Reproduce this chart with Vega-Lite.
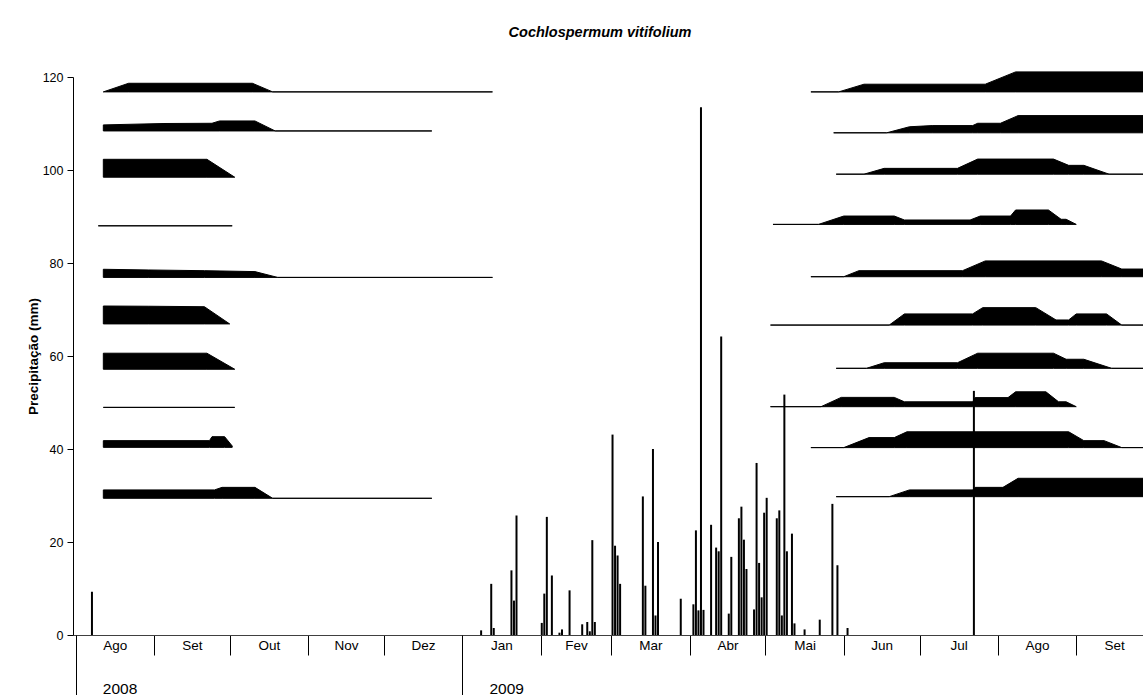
{
  "$schema": "https://vega.github.io/schema/vega-lite/v6.json",
  "width": 1070,
  "height": 558,
  "autosize": {"type": "none"},
  "padding": {"left": 73, "top": 77, "right": 0, "bottom": 60},
  "background": "white",
  "config": {
    "font": "Liberation Sans",
    "view": {"stroke": null},
    "axis": {"labelFont": "Liberation Sans", "titleFont": "Liberation Sans", "labelColor": "black", "titleColor": "black", "grid": false},
    "axisY": {
      "titleFontWeight": "bold", "titleFontSize": 13.5, "titlePadding": 2,
      "labelFontSize": 12.5, "labelPadding": 4,
      "tickSize": 6, "tickColor": "black", "domainColor": "black", "grid": false
    }
  },
  "title": {
    "text": "Cochlospermum vitifolium",
    "font": "Liberation Sans",
    "fontSize": 14.5,
    "fontWeight": "bold",
    "fontStyle": "italic",
    "color": "black",
    "anchor": "middle",
    "frame": "group",
    "offset": 29,
    "dx": -8
  },
  "datasets": {
    "rain": [
      {"date": "2008-08-07", "mm": 9.3},
      {"date": "2009-01-08", "mm": 1.0},
      {"date": "2009-01-12", "mm": 11.0},
      {"date": "2009-01-13", "mm": 1.5},
      {"date": "2009-01-20", "mm": 13.9},
      {"date": "2009-01-21", "mm": 7.4},
      {"date": "2009-01-22", "mm": 25.7},
      {"date": "2009-02-01", "mm": 2.6},
      {"date": "2009-02-02", "mm": 8.9},
      {"date": "2009-02-03", "mm": 25.4},
      {"date": "2009-02-05", "mm": 12.8},
      {"date": "2009-02-08", "mm": 0.5},
      {"date": "2009-02-09", "mm": 1.2},
      {"date": "2009-02-12", "mm": 9.6},
      {"date": "2009-02-17", "mm": 2.3},
      {"date": "2009-02-19", "mm": 2.8},
      {"date": "2009-02-20", "mm": 0.8},
      {"date": "2009-02-21", "mm": 20.4},
      {"date": "2009-02-22", "mm": 2.8},
      {"date": "2009-03-01", "mm": 43.1},
      {"date": "2009-03-02", "mm": 19.2},
      {"date": "2009-03-03", "mm": 17.1},
      {"date": "2009-03-04", "mm": 11.0},
      {"date": "2009-03-13", "mm": 29.8},
      {"date": "2009-03-14", "mm": 10.6},
      {"date": "2009-03-17", "mm": 40.0},
      {"date": "2009-03-18", "mm": 4.2},
      {"date": "2009-03-19", "mm": 20.0},
      {"date": "2009-03-28", "mm": 7.8},
      {"date": "2009-04-02", "mm": 6.6},
      {"date": "2009-04-03", "mm": 22.5},
      {"date": "2009-04-04", "mm": 5.3},
      {"date": "2009-04-05", "mm": 113.5},
      {"date": "2009-04-06", "mm": 5.4},
      {"date": "2009-04-09", "mm": 23.7},
      {"date": "2009-04-11", "mm": 18.8},
      {"date": "2009-04-12", "mm": 18.0},
      {"date": "2009-04-13", "mm": 64.2},
      {"date": "2009-04-16", "mm": 4.6},
      {"date": "2009-04-17", "mm": 16.8},
      {"date": "2009-04-20", "mm": 25.1},
      {"date": "2009-04-21", "mm": 27.6},
      {"date": "2009-04-22", "mm": 20.5},
      {"date": "2009-04-23", "mm": 14.2},
      {"date": "2009-04-26", "mm": 5.5},
      {"date": "2009-04-27", "mm": 37.0},
      {"date": "2009-04-28", "mm": 15.5},
      {"date": "2009-04-29", "mm": 8.1},
      {"date": "2009-04-30", "mm": 26.3},
      {"date": "2009-05-01", "mm": 29.5},
      {"date": "2009-05-05", "mm": 25.1},
      {"date": "2009-05-06", "mm": 26.8},
      {"date": "2009-05-07", "mm": 4.2},
      {"date": "2009-05-08", "mm": 51.7},
      {"date": "2009-05-09", "mm": 18.0},
      {"date": "2009-05-11", "mm": 21.8},
      {"date": "2009-05-12", "mm": 2.5},
      {"date": "2009-05-16", "mm": 1.2},
      {"date": "2009-05-22", "mm": 3.3},
      {"date": "2009-05-27", "mm": 28.2},
      {"date": "2009-05-29", "mm": 15.0},
      {"date": "2009-06-02", "mm": 1.5},
      {"date": "2009-07-22", "mm": 52.5}
    ],
    "kites": [
      {"season": 2008, "plant": 1, "date": "2008-08-12", "low": 116.8, "high": 116.8},
      {"season": 2008, "plant": 1, "date": "2008-08-22", "low": 116.8, "high": 118.65},
      {"season": 2008, "plant": 1, "date": "2008-10-10", "low": 116.8, "high": 118.65},
      {"season": 2008, "plant": 1, "date": "2008-10-18", "low": 116.8, "high": 116.8},
      {"season": 2008, "plant": 1, "date": "2009-01-13", "low": 116.8, "high": 116.8},

      {"season": 2008, "plant": 2, "date": "2008-08-12", "low": 108.4, "high": 109.7},
      {"season": 2008, "plant": 2, "date": "2008-09-05", "low": 108.4, "high": 110.0},
      {"season": 2008, "plant": 2, "date": "2008-09-24", "low": 108.4, "high": 110.05},
      {"season": 2008, "plant": 2, "date": "2008-09-27", "low": 108.4, "high": 110.55},
      {"season": 2008, "plant": 2, "date": "2008-10-11", "low": 108.4, "high": 110.55},
      {"season": 2008, "plant": 2, "date": "2008-10-19", "low": 108.4, "high": 108.4},
      {"season": 2008, "plant": 2, "date": "2008-12-20", "low": 108.4, "high": 108.4},

      {"season": 2008, "plant": 3, "date": "2008-08-12", "low": 98.45, "high": 102.3},
      {"season": 2008, "plant": 3, "date": "2008-09-22", "low": 98.45, "high": 102.3},
      {"season": 2008, "plant": 3, "date": "2008-10-03", "low": 98.45, "high": 98.45},

      {"season": 2008, "plant": 4, "date": "2008-08-10", "low": 88.0, "high": 88.0},
      {"season": 2008, "plant": 4, "date": "2008-10-02", "low": 88.0, "high": 88.0},

      {"season": 2008, "plant": 5, "date": "2008-08-12", "low": 76.9, "high": 78.65},
      {"season": 2008, "plant": 5, "date": "2008-08-30", "low": 76.9, "high": 78.5},
      {"season": 2008, "plant": 5, "date": "2008-09-21", "low": 76.9, "high": 78.35},
      {"season": 2008, "plant": 5, "date": "2008-10-11", "low": 76.9, "high": 78.15},
      {"season": 2008, "plant": 5, "date": "2008-10-20", "low": 76.9, "high": 76.9},
      {"season": 2008, "plant": 5, "date": "2009-01-13", "low": 76.9, "high": 76.9},

      {"season": 2008, "plant": 6, "date": "2008-08-12", "low": 66.9, "high": 70.75},
      {"season": 2008, "plant": 6, "date": "2008-08-30", "low": 66.9, "high": 70.7},
      {"season": 2008, "plant": 6, "date": "2008-09-21", "low": 66.9, "high": 70.6},
      {"season": 2008, "plant": 6, "date": "2008-10-01", "low": 66.9, "high": 66.9},

      {"season": 2008, "plant": 7, "date": "2008-08-12", "low": 57.15, "high": 60.6},
      {"season": 2008, "plant": 7, "date": "2008-09-22", "low": 57.15, "high": 60.6},
      {"season": 2008, "plant": 7, "date": "2008-10-03", "low": 57.15, "high": 57.15},

      {"season": 2008, "plant": 8, "date": "2008-08-12", "low": 48.95, "high": 48.95},
      {"season": 2008, "plant": 8, "date": "2008-10-03", "low": 48.95, "high": 48.95},

      {"season": 2008, "plant": 9, "date": "2008-08-12", "low": 40.35, "high": 41.8},
      {"season": 2008, "plant": 9, "date": "2008-09-23", "low": 40.35, "high": 41.8},
      {"season": 2008, "plant": 9, "date": "2008-09-24", "low": 40.35, "high": 42.65},
      {"season": 2008, "plant": 9, "date": "2008-09-29", "low": 40.35, "high": 42.65},
      {"season": 2008, "plant": 9, "date": "2008-10-02", "low": 40.35, "high": 40.65},

      {"season": 2008, "plant": 10, "date": "2008-08-12", "low": 29.4, "high": 31.2},
      {"season": 2008, "plant": 10, "date": "2008-09-25", "low": 29.4, "high": 31.2},
      {"season": 2008, "plant": 10, "date": "2008-09-28", "low": 29.4, "high": 31.75},
      {"season": 2008, "plant": 10, "date": "2008-10-11", "low": 29.4, "high": 31.75},
      {"season": 2008, "plant": 10, "date": "2008-10-18", "low": 29.4, "high": 29.4},
      {"season": 2008, "plant": 10, "date": "2008-12-20", "low": 29.4, "high": 29.4},

      {"season": 2009, "plant": 1, "date": "2009-05-19", "low": 116.8, "high": 116.8},
      {"season": 2009, "plant": 1, "date": "2009-05-30", "low": 116.8, "high": 116.8},
      {"season": 2009, "plant": 1, "date": "2009-06-09", "low": 116.8, "high": 118.45},
      {"season": 2009, "plant": 1, "date": "2009-07-27", "low": 116.8, "high": 118.45},
      {"season": 2009, "plant": 1, "date": "2009-08-08", "low": 116.8, "high": 121.1},
      {"season": 2009, "plant": 1, "date": "2009-09-30", "low": 116.8, "high": 121.1},

      {"season": 2009, "plant": 2, "date": "2009-05-28", "low": 108.0, "high": 108.0},
      {"season": 2009, "plant": 2, "date": "2009-06-18", "low": 108.0, "high": 108.0},
      {"season": 2009, "plant": 2, "date": "2009-06-27", "low": 108.0, "high": 109.3},
      {"season": 2009, "plant": 2, "date": "2009-07-06", "low": 108.0, "high": 109.55},
      {"season": 2009, "plant": 2, "date": "2009-07-22", "low": 108.0, "high": 109.55},
      {"season": 2009, "plant": 2, "date": "2009-07-24", "low": 108.0, "high": 110.05},
      {"season": 2009, "plant": 2, "date": "2009-08-02", "low": 108.0, "high": 110.05},
      {"season": 2009, "plant": 2, "date": "2009-08-09", "low": 108.0, "high": 111.7},
      {"season": 2009, "plant": 2, "date": "2009-09-30", "low": 108.0, "high": 111.7},

      {"season": 2009, "plant": 3, "date": "2009-05-29", "low": 99.1, "high": 99.1},
      {"season": 2009, "plant": 3, "date": "2009-06-09", "low": 99.1, "high": 99.1},
      {"season": 2009, "plant": 3, "date": "2009-06-17", "low": 99.1, "high": 100.35},
      {"season": 2009, "plant": 3, "date": "2009-07-16", "low": 99.1, "high": 100.35},
      {"season": 2009, "plant": 3, "date": "2009-07-24", "low": 99.1, "high": 102.35},
      {"season": 2009, "plant": 3, "date": "2009-08-23", "low": 99.1, "high": 102.35},
      {"season": 2009, "plant": 3, "date": "2009-08-29", "low": 99.1, "high": 101.0},
      {"season": 2009, "plant": 3, "date": "2009-09-04", "low": 99.1, "high": 101.0},
      {"season": 2009, "plant": 3, "date": "2009-09-14", "low": 99.1, "high": 99.1},
      {"season": 2009, "plant": 3, "date": "2009-09-30", "low": 99.1, "high": 99.1},

      {"season": 2009, "plant": 4, "date": "2009-05-04", "low": 88.3, "high": 88.3},
      {"season": 2009, "plant": 4, "date": "2009-05-22", "low": 88.3, "high": 88.3},
      {"season": 2009, "plant": 4, "date": "2009-06-01", "low": 88.3, "high": 90.1},
      {"season": 2009, "plant": 4, "date": "2009-06-21", "low": 88.3, "high": 90.1},
      {"season": 2009, "plant": 4, "date": "2009-06-25", "low": 88.3, "high": 89.25},
      {"season": 2009, "plant": 4, "date": "2009-07-21", "low": 88.3, "high": 89.25},
      {"season": 2009, "plant": 4, "date": "2009-07-25", "low": 88.3, "high": 90.1},
      {"season": 2009, "plant": 4, "date": "2009-08-06", "low": 88.3, "high": 90.1},
      {"season": 2009, "plant": 4, "date": "2009-08-08", "low": 88.3, "high": 91.4},
      {"season": 2009, "plant": 4, "date": "2009-08-21", "low": 88.3, "high": 91.4},
      {"season": 2009, "plant": 4, "date": "2009-08-26", "low": 88.3, "high": 89.4},
      {"season": 2009, "plant": 4, "date": "2009-08-28", "low": 88.3, "high": 89.4},
      {"season": 2009, "plant": 4, "date": "2009-09-01", "low": 88.3, "high": 88.3},

      {"season": 2009, "plant": 5, "date": "2009-05-19", "low": 77.05, "high": 77.05},
      {"season": 2009, "plant": 5, "date": "2009-06-01", "low": 77.05, "high": 77.05},
      {"season": 2009, "plant": 5, "date": "2009-06-07", "low": 77.05, "high": 78.35},
      {"season": 2009, "plant": 5, "date": "2009-07-18", "low": 77.05, "high": 78.35},
      {"season": 2009, "plant": 5, "date": "2009-07-27", "low": 77.05, "high": 80.45},
      {"season": 2009, "plant": 5, "date": "2009-09-11", "low": 77.05, "high": 80.45},
      {"season": 2009, "plant": 5, "date": "2009-09-19", "low": 77.05, "high": 78.7},
      {"season": 2009, "plant": 5, "date": "2009-09-30", "low": 77.05, "high": 78.7},

      {"season": 2009, "plant": 6, "date": "2009-05-03", "low": 66.65, "high": 66.65},
      {"season": 2009, "plant": 6, "date": "2009-06-19", "low": 66.65, "high": 66.65},
      {"season": 2009, "plant": 6, "date": "2009-06-25", "low": 66.65, "high": 69.05},
      {"season": 2009, "plant": 6, "date": "2009-07-22", "low": 66.65, "high": 69.05},
      {"season": 2009, "plant": 6, "date": "2009-07-26", "low": 66.65, "high": 70.4},
      {"season": 2009, "plant": 6, "date": "2009-08-16", "low": 66.65, "high": 70.4},
      {"season": 2009, "plant": 6, "date": "2009-08-24", "low": 66.65, "high": 67.75},
      {"season": 2009, "plant": 6, "date": "2009-08-29", "low": 66.65, "high": 67.75},
      {"season": 2009, "plant": 6, "date": "2009-09-01", "low": 66.65, "high": 69.05},
      {"season": 2009, "plant": 6, "date": "2009-09-13", "low": 66.65, "high": 69.05},
      {"season": 2009, "plant": 6, "date": "2009-09-19", "low": 66.65, "high": 66.65},
      {"season": 2009, "plant": 6, "date": "2009-09-30", "low": 66.65, "high": 66.65},

      {"season": 2009, "plant": 7, "date": "2009-05-29", "low": 57.35, "high": 57.35},
      {"season": 2009, "plant": 7, "date": "2009-06-10", "low": 57.35, "high": 57.35},
      {"season": 2009, "plant": 7, "date": "2009-06-17", "low": 57.35, "high": 58.55},
      {"season": 2009, "plant": 7, "date": "2009-07-16", "low": 57.35, "high": 58.55},
      {"season": 2009, "plant": 7, "date": "2009-07-24", "low": 57.35, "high": 60.6},
      {"season": 2009, "plant": 7, "date": "2009-08-23", "low": 57.35, "high": 60.6},
      {"season": 2009, "plant": 7, "date": "2009-08-28", "low": 57.35, "high": 59.3},
      {"season": 2009, "plant": 7, "date": "2009-09-04", "low": 57.35, "high": 59.3},
      {"season": 2009, "plant": 7, "date": "2009-09-15", "low": 57.35, "high": 57.35},
      {"season": 2009, "plant": 7, "date": "2009-09-30", "low": 57.35, "high": 57.35},

      {"season": 2009, "plant": 8, "date": "2009-05-03", "low": 49.1, "high": 49.1},
      {"season": 2009, "plant": 8, "date": "2009-05-23", "low": 49.1, "high": 49.1},
      {"season": 2009, "plant": 8, "date": "2009-05-31", "low": 49.1, "high": 51.1},
      {"season": 2009, "plant": 8, "date": "2009-06-21", "low": 49.1, "high": 51.1},
      {"season": 2009, "plant": 8, "date": "2009-06-25", "low": 49.1, "high": 50.15},
      {"season": 2009, "plant": 8, "date": "2009-07-22", "low": 49.1, "high": 50.15},
      {"season": 2009, "plant": 8, "date": "2009-07-23", "low": 49.1, "high": 51.05},
      {"season": 2009, "plant": 8, "date": "2009-08-05", "low": 49.1, "high": 51.05},
      {"season": 2009, "plant": 8, "date": "2009-08-08", "low": 49.1, "high": 52.3},
      {"season": 2009, "plant": 8, "date": "2009-08-20", "low": 49.1, "high": 52.3},
      {"season": 2009, "plant": 8, "date": "2009-08-25", "low": 49.1, "high": 50.15},
      {"season": 2009, "plant": 8, "date": "2009-08-28", "low": 49.1, "high": 50.15},
      {"season": 2009, "plant": 8, "date": "2009-09-01", "low": 49.1, "high": 49.1},

      {"season": 2009, "plant": 9, "date": "2009-05-19", "low": 40.3, "high": 40.3},
      {"season": 2009, "plant": 9, "date": "2009-06-01", "low": 40.3, "high": 40.3},
      {"season": 2009, "plant": 9, "date": "2009-06-11", "low": 40.3, "high": 42.45},
      {"season": 2009, "plant": 9, "date": "2009-06-21", "low": 40.3, "high": 42.45},
      {"season": 2009, "plant": 9, "date": "2009-06-26", "low": 40.3, "high": 43.7},
      {"season": 2009, "plant": 9, "date": "2009-08-29", "low": 40.3, "high": 43.7},
      {"season": 2009, "plant": 9, "date": "2009-09-04", "low": 40.3, "high": 41.8},
      {"season": 2009, "plant": 9, "date": "2009-09-12", "low": 40.3, "high": 41.8},
      {"season": 2009, "plant": 9, "date": "2009-09-19", "low": 40.3, "high": 40.3},
      {"season": 2009, "plant": 9, "date": "2009-09-30", "low": 40.3, "high": 40.3},

      {"season": 2009, "plant": 10, "date": "2009-05-29", "low": 29.75, "high": 29.75},
      {"season": 2009, "plant": 10, "date": "2009-06-19", "low": 29.75, "high": 29.75},
      {"season": 2009, "plant": 10, "date": "2009-06-27", "low": 29.75, "high": 31.2},
      {"season": 2009, "plant": 10, "date": "2009-07-22", "low": 29.75, "high": 31.2},
      {"season": 2009, "plant": 10, "date": "2009-07-23", "low": 29.75, "high": 31.75},
      {"season": 2009, "plant": 10, "date": "2009-08-03", "low": 29.75, "high": 31.75},
      {"season": 2009, "plant": 10, "date": "2009-08-09", "low": 29.75, "high": 33.7},
      {"season": 2009, "plant": 10, "date": "2009-09-30", "low": 29.75, "high": 33.7}
    ]
  },
  "resolve": {"axis": {"x": "independent"}},
  "layer": [
    {
      "data": {"name": "rain"},
      "mark": {"type": "bar", "color": "black", "width": 2},
      "encoding": {
        "x": {
          "field": "date", "type": "temporal", "timeUnit": "utcyearmonthdate", "bandPosition": 0.5,
          "scale": {"type": "utc", "domain": [{"year": 2008, "month": 7, "date": 31, "utc": true}, {"year": 2009, "month": 9, "date": 27, "hours": 10, "utc": true}]},
          "axis": {
            "orient": "bottom", "title": null, "labels": false, "grid": false,
            "domain": true, "domainColor": "#404040", "domainWidth": 1,
            "ticks": true, "tickSize": 20, "tickColor": "black", "tickWidth": 1,
            "values": [
              {"year": 2008, "month": 8, "date": 1, "utc": true},
              {"year": 2008, "month": 9, "date": 1, "utc": true},
              {"year": 2008, "month": 10, "date": 1, "utc": true},
              {"year": 2008, "month": 11, "date": 1, "utc": true},
              {"year": 2008, "month": 12, "date": 1, "utc": true},
              {"year": 2009, "month": 1, "date": 1, "utc": true},
              {"year": 2009, "month": 2, "date": 1, "utc": true},
              {"year": 2009, "month": 3, "date": 1, "utc": true},
              {"year": 2009, "month": 4, "date": 1, "utc": true},
              {"year": 2009, "month": 5, "date": 1, "utc": true},
              {"year": 2009, "month": 6, "date": 1, "utc": true},
              {"year": 2009, "month": 7, "date": 1, "utc": true},
              {"year": 2009, "month": 8, "date": 1, "utc": true},
              {"year": 2009, "month": 9, "date": 1, "utc": true}
            ]
          }
        },
        "y": {
          "field": "mm", "type": "quantitative",
          "scale": {"domain": [0, 120], "nice": false, "zero": true},
          "axis": {"title": "Precipitação (mm)", "values": [0, 20, 40, 60, 80, 100, 120]}
        }
      }
    },
    {
      "data": {"name": "kites"},
      "transform": [{"filter": "datum.season == 2008"}],
      "mark": {"type": "area", "color": "black", "stroke": "black", "strokeWidth": 1, "interpolate": "linear"},
      "encoding": {
        "x": {
          "field": "date", "type": "temporal",
          "scale": {"type": "utc", "domain": [{"year": 2008, "month": 7, "date": 31, "utc": true}, {"year": 2009, "month": 9, "date": 27, "hours": 10, "utc": true}]},
          "axis": {
            "orient": "bottom", "title": null, "grid": false, "domain": false,
            "ticks": true, "tickSize": 60, "tickColor": "black", "tickWidth": 1,
            "values": [
              {"year": 2008, "month": 8, "date": 1, "utc": true},
              {"year": 2009, "month": 1, "date": 1, "utc": true}
            ],
            "labelExpr": "'' + utcyear(datum.value)",
            "labelOffset": 44, "labelPadding": -14, "labelFontSize": 15.5,
            "labelFlush": false, "labelOverlap": false, "labelAlign": "center"
          }
        },
        "y": {"field": "high", "type": "quantitative", "stack": null, "scale": {"domain": [0, 120], "nice": false, "zero": true}, "axis": {"title": "Precipitação (mm)", "values": [0, 20, 40, 60, 80, 100, 120]}},
        "y2": {"field": "low"},
        "detail": {"field": "plant", "type": "nominal"}
      }
    },
    {
      "data": {"name": "kites"},
      "transform": [{"filter": "datum.season == 2009"}],
      "mark": {"type": "area", "color": "black", "stroke": "black", "strokeWidth": 1, "interpolate": "linear"},
      "encoding": {
        "x": {
          "field": "date", "type": "temporal",
          "scale": {"type": "utc", "domain": [{"year": 2008, "month": 7, "date": 31, "utc": true}, {"year": 2009, "month": 9, "date": 27, "hours": 10, "utc": true}]},
          "axis": {
            "orient": "bottom", "title": null, "grid": false, "domain": false, "ticks": false,
            "values": [
              {"year": 2008, "month": 8, "date": 16, "hours": 12, "utc": true},
              {"year": 2008, "month": 9, "date": 16, "utc": true},
              {"year": 2008, "month": 10, "date": 16, "hours": 12, "utc": true},
              {"year": 2008, "month": 11, "date": 16, "utc": true},
              {"year": 2008, "month": 12, "date": 16, "hours": 12, "utc": true},
              {"year": 2009, "month": 1, "date": 16, "hours": 12, "utc": true},
              {"year": 2009, "month": 2, "date": 15, "utc": true},
              {"year": 2009, "month": 3, "date": 16, "hours": 12, "utc": true},
              {"year": 2009, "month": 4, "date": 16, "utc": true},
              {"year": 2009, "month": 5, "date": 16, "hours": 12, "utc": true},
              {"year": 2009, "month": 6, "date": 16, "utc": true},
              {"year": 2009, "month": 7, "date": 16, "hours": 12, "utc": true},
              {"year": 2009, "month": 8, "date": 16, "hours": 12, "utc": true},
              {"year": 2009, "month": 9, "date": 16, "utc": true}
            ],
            "labelExpr": "['Jan','Fev','Mar','Abr','Mai','Jun','Jul','Ago','Set','Out','Nov','Dez'][utcmonth(datum.value)]",
            "labelPadding": 3, "labelFontSize": 13.5, "labelFlush": false, "labelOverlap": false
          }
        },
        "y": {"field": "high", "type": "quantitative", "stack": null, "scale": {"domain": [0, 120], "nice": false, "zero": true}, "axis": {"title": "Precipitação (mm)", "values": [0, 20, 40, 60, 80, 100, 120]}},
        "y2": {"field": "low"},
        "detail": {"field": "plant", "type": "nominal"}
      }
    }
  ]
}
